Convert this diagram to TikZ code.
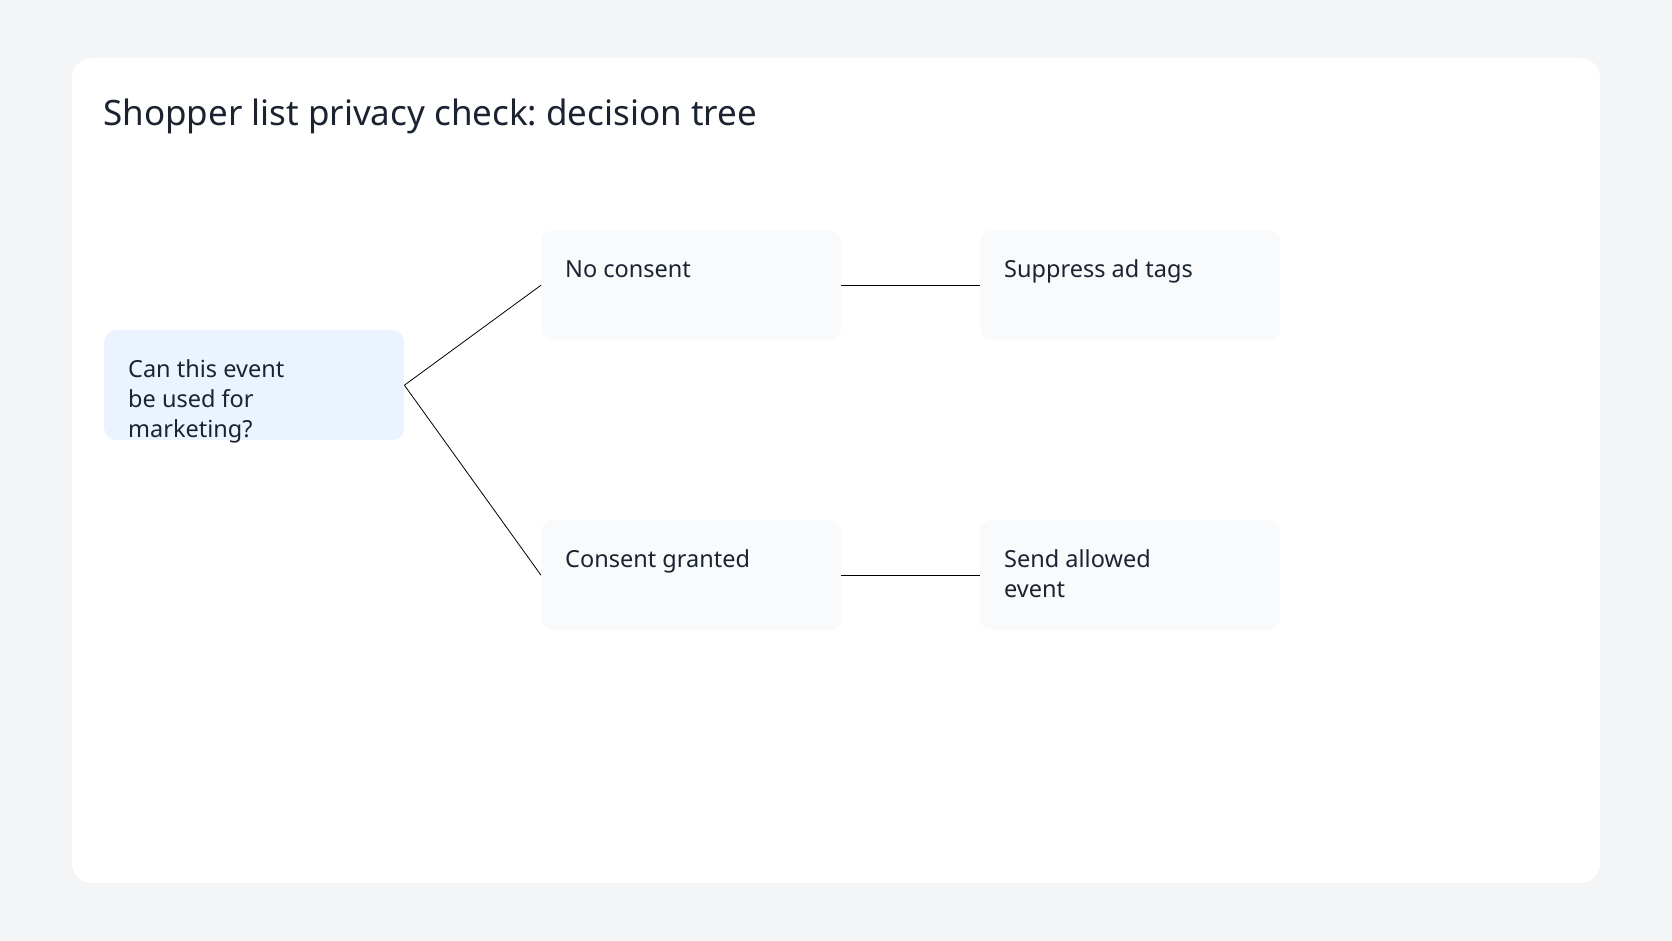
\documentclass[tikz,border=0pt]{standalone}
\usepackage{fontspec}
\setmainfont{Noto Sans}
\frenchspacing
\definecolor{pagebg}{HTML}{F4F5F7}
\definecolor{rootfill}{HTML}{EBF4FE}
\definecolor{leaffill}{HTML}{F8FAFC}
\definecolor{inkdark}{HTML}{1B2331}
\begin{document}
\begin{tikzpicture}
[x=1pt,y=-1pt,
 cardbox/.style={fill=white,rounded corners=20pt},
 nodedecorate/.style={shape=rectangle,rounded corners=12pt,minimum width=300pt,
   minimum height=110pt,anchor=north west,inner sep=0pt},
 textdecorate/.style={anchor=base west,inner sep=0pt,text=inkdark,
   font=\fontsize{23.5}{30}\selectfont},
 linedecorate/.style={-,line width=0.8pt,draw=black}]
%% page and card
\fill[pagebg] (0,0) rectangle (1672,941);
\useasboundingbox (0,0) rectangle (1672,941);
\fill[cardbox] (72,58) rectangle (1600,883);
\node (title) at (103,126) [anchor=base west,inner sep=0pt,text=inkdark,
  font=\fontsize{35}{40}\selectfont] {Shopper list privacy check: decision tree};
%% nodes or vertices
\node (q) at (104,330) [nodedecorate,fill=rootfill] {};
\foreach \nodename/\x/\y in {nc/541/230, cg/541/520, sa/980/230, se/980/520} {
  \node (\nodename) at (\x,\y) [nodedecorate,fill=leaffill] {};
}
%% texts inside the boxes
\foreach \nodename/\txt in {q/{Can this event\\be used for\\marketing?},
    nc/{No consent}, cg/{Consent granted}, sa/{Suppress ad tags},
    se/{Send allowed\\event}} {
  \node (\nodename-text) at ([shift={(24,47)}]\nodename.north west) [textdecorate]
    {\parbox[t]{260pt}{\raggedright\txt}};
}
%% edges or lines
\path
\foreach \startnode/\endnode in {q/nc, q/cg, nc/sa, cg/se} {
  (\startnode.east) edge[linedecorate] (\endnode.west)
};
\end{tikzpicture}
\end{document}
